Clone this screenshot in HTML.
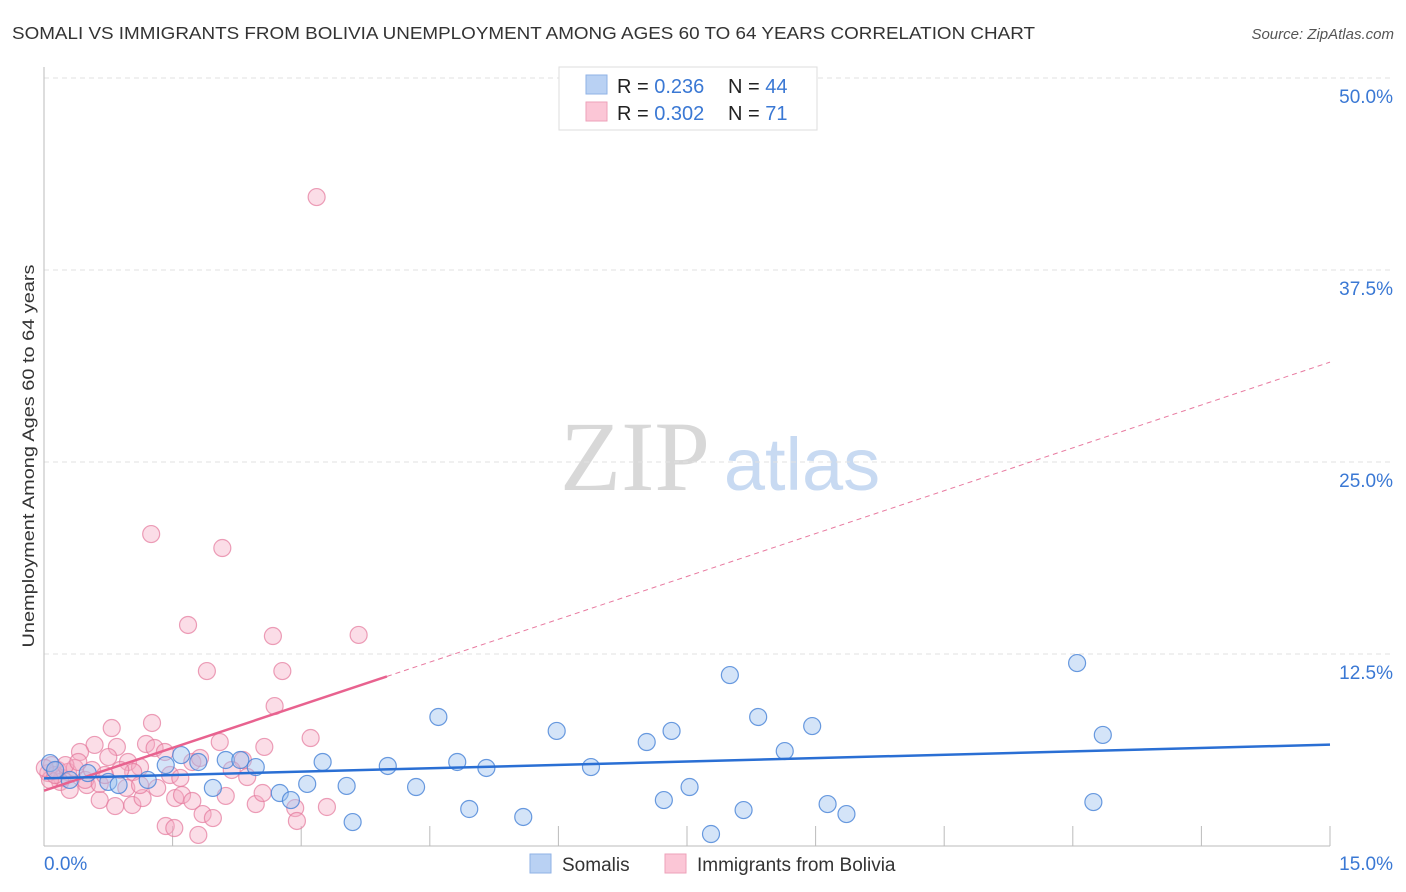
<!DOCTYPE html>
<html><head><meta charset="utf-8"><style>
body{margin:0;background:#fff;font-family:"Liberation Sans",sans-serif;}
svg{display:block}
</style></head><body>
<svg id="chart" width="1406" height="892">
<text x="12" y="39" font-size="17.5" fill="#333" textLength="1023" lengthAdjust="spacingAndGlyphs">SOMALI VS IMMIGRANTS FROM BOLIVIA UNEMPLOYMENT AMONG AGES 60 TO 64 YEARS CORRELATION CHART</text>
<text x="1394" y="39" font-size="15" fill="#555" font-style="italic" text-anchor="end">Source: ZipAtlas.com</text>
<g>
<text x="635" y="490" font-size="100" font-family="Liberation Serif,serif" fill="#d8d8d8" text-anchor="middle">ZIP</text>
<text x="802" y="490" font-size="74" fill="#c8daf2" text-anchor="middle">atlas</text>
</g>
<g id="grid"></g>
<g id="axes"></g>
<g id="pts"></g>
<g id="lines"></g>
<text transform="translate(34,456) rotate(-90)" font-size="17" fill="#333" text-anchor="middle" textLength="383" lengthAdjust="spacingAndGlyphs">Unemployment Among Ages 60 to 64 years</text>
<g>
<rect x="559" y="67" width="258" height="63" fill="#fff" stroke="#ddd"/>
<rect x="586" y="75" width="21" height="19" fill="#b9d1f3" stroke="#8fb2e6"/>
<rect x="586" y="102" width="21" height="19" fill="#fbc6d6" stroke="#eea1b9"/>
<text x="617" y="93" font-size="20" fill="#222">R = <tspan fill="#3a78d4">0.236</tspan></text>
<text x="728" y="93" font-size="20" fill="#222">N = <tspan fill="#3a78d4">44</tspan></text>
<text x="617" y="120" font-size="20" fill="#222">R = <tspan fill="#3a78d4">0.302</tspan></text>
<text x="728" y="120" font-size="20" fill="#222">N = <tspan fill="#3a78d4"> 71</tspan></text>
</g>
<g>
<rect x="530" y="854" width="21" height="19" fill="#b9d1f3" stroke="#8fb2e6"/>
<text x="562" y="871" font-size="19" fill="#333">Somalis</text>
<rect x="665" y="854" width="21" height="19" fill="#fbc6d6" stroke="#eea1b9"/>
<text x="697" y="871" font-size="19" fill="#333">Immigrants from Bolivia</text>
</g>
</svg>
<script>
const yTicks=[12.5,25,37.5,50];
const yTickLabels=["12.5%","25.0%","37.5%","50.0%"];
const xTicks=[0,1.5,3,4.5,6,7.5,9,10.5,12,13.5,15];
const somaliX=[0.07,0.13,0.30,0.51,0.75,0.87,1.21,1.42,1.60,1.80,1.97,2.12,2.29,2.47,2.75,2.88,3.07,3.25,3.53,3.60,4.01,4.34,4.60,4.82,4.96,5.16,5.59,5.98,6.38,7.03,7.23,7.32,7.53,7.78,8.00,8.16,8.33,8.64,8.96,9.14,9.36,12.05,12.24,12.35];
const somaliY=[5.40,4.95,4.30,4.75,4.17,3.97,4.30,5.27,5.92,5.47,3.78,5.60,5.60,5.14,3.45,2.99,4.04,5.47,3.91,1.56,5.21,3.84,8.40,5.47,2.41,5.08,1.89,7.49,5.14,6.77,2.99,7.49,3.84,0.78,11.13,2.34,8.40,6.18,7.81,2.73,2.08,11.91,2.86,7.23];
const boliviaX=[3.18,1.25,2.08,1.68,2.67,3.67,1.90,2.78,2.69,1.26,0.79,3.11,0.59,0.42,0.85,0.75,1.19,1.29,1.41,2.05,2.57,0.98,1.12,1.47,2.32,2.37,1.73,0.50,0.65,0.83,1.03,1.15,1.32,1.53,1.61,1.73,1.85,1.97,2.12,2.47,2.55,2.93,2.95,3.30,1.42,1.52,1.80,0.05,0.09,0.16,0.21,0.28,0.36,0.48,0.19,0.07,0.13,1.04,0.65,0.96,1.12,0.25,0.56,0.89,0.01,0.30,1.82,2.19,0.71,1.59,0.40];
const boliviaY=[42.25,20.31,19.40,14.39,13.67,13.74,11.39,11.39,9.11,8.01,7.68,7.03,6.58,6.12,6.45,5.79,6.64,6.38,6.12,6.77,6.45,5.47,5.14,4.62,5.60,4.49,5.47,3.97,2.99,2.60,2.67,3.12,3.78,3.12,3.32,2.93,2.08,1.82,3.26,2.73,3.45,2.47,1.63,2.54,1.30,1.17,0.72,4.75,5.27,4.95,4.43,4.82,5.08,4.30,4.17,4.30,4.62,4.82,4.04,3.78,3.97,5.27,4.95,4.95,5.08,3.65,5.73,4.95,4.62,4.43,5.47];
const somaliTrend=[4.4,6.6];
const boliviaTrend=[3.6,31.5];
const boliviaSolidEnd=4.0;

const X=v=>44+v/15*1286, Y=v=>846-v/12.5*192;
const NS="http://www.w3.org/2000/svg";
function mk(parent,tag,attrs){const e=document.createElementNS(NS,tag);for(const k in attrs)e.setAttribute(k,attrs[k]);document.getElementById(parent).appendChild(e);return e;}
yTicks.forEach((t,i)=>{
 const l=mk('grid','line',{x1:44,x2:1394,y1:Y(t),y2:Y(t),stroke:'#e2e2e2','stroke-dasharray':'5,4'});
 
 
 const tx=mk('grid','text',{x:1393,y:Y(t)+25,'font-size':19,fill:'#3a78d4','text-anchor':'end'});
 tx.textContent=yTickLabels[i];
 
 
});
const ax=mk('axes','line',{x1:44,x2:44,y1:67,y2:846,stroke:'#bbb'});


const bx=mk('axes','line',{x1:44,x2:1330,y1:846,y2:846,stroke:'#bbb'});


xTicks.forEach(t=>{
 const l=mk('axes','line',{x1:X(t),x2:X(t),y1:826,y2:846,stroke:'#bbb'});
 
 
});
const x0=mk('axes','text',{x:44,y:870,'font-size':19,fill:'#3a78d4'});x0.textContent='0.0%';


const x1=mk('axes','text',{x:1393,y:870,'font-size':19,fill:'#3a78d4','text-anchor':'end'});x1.textContent='15.0%';


boliviaX.forEach((v,i)=>{
 const c=mk('pts','circle',{cx:X(v),cy:Y(boliviaY[i]),r:8.5,fill:'rgba(245,170,195,0.4)',stroke:'rgba(228,120,155,0.7)','stroke-width':1.2});
 
 
});
somaliX.forEach((v,i)=>{
 const c=mk('pts','circle',{cx:X(v),cy:Y(somaliY[i]),r:8.5,fill:'rgba(160,195,240,0.45)',stroke:'rgba(70,130,215,0.8)','stroke-width':1.2});
 
 
});
const bY=x=>boliviaTrend[0]+(boliviaTrend[1]-boliviaTrend[0])*x/15;
const pd=mk('lines','line',{x1:X(boliviaSolidEnd),y1:Y(bY(boliviaSolidEnd)),x2:X(15),y2:Y(bY(15)),stroke:'#e87aa0','stroke-width':1,'stroke-dasharray':'5,4'});


const ps=mk('lines','line',{x1:X(0),y1:Y(bY(0)),x2:X(boliviaSolidEnd),y2:Y(bY(boliviaSolidEnd)),stroke:'#e8628f','stroke-width':2.5});


const sl=mk('lines','line',{x1:X(0),y1:Y(somaliTrend[0]),x2:X(15),y2:Y(somaliTrend[1]),stroke:'#2a6fd4','stroke-width':2.5});


</script>
</body></html>
